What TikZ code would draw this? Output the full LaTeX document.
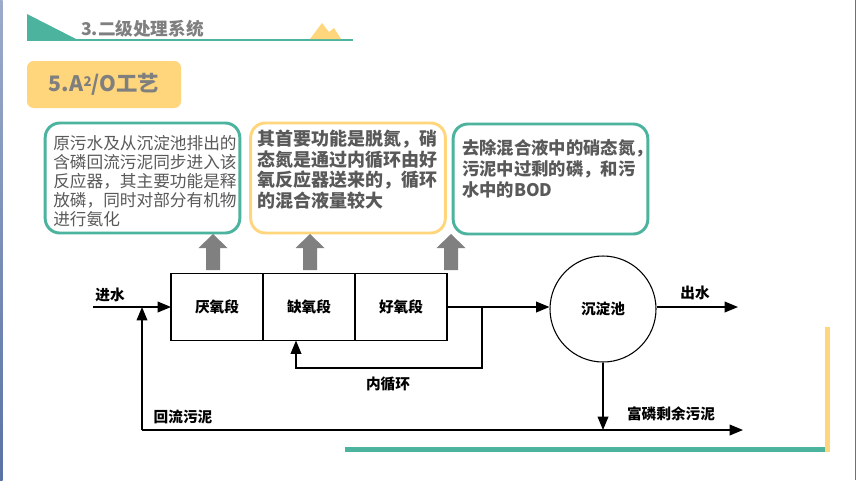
\documentclass[tikz,border=0pt]{standalone}
\usepackage{fontspec}
\setmainfont{Noto Sans CJK SC}
\usetikzlibrary{arrows.meta,positioning}
\definecolor{themeteal}{RGB}{76,179,158}
\definecolor{themeyellow}{RGB}{255,214,123}
\definecolor{titlegray}{RGB}{127,127,127}
\definecolor{notegray}{RGB}{89,89,89}
\definecolor{fatgray}{RGB}{128,128,128}
\definecolor{edgeblue}{RGB}{90,115,165}

\begin{document}
\begin{tikzpicture}[x=0.75pt,y=0.75pt,yscale=-1,xscale=1,
    flow/.style={line width=1.1pt,-{Triangle[length=10pt,width=8pt]}},
    stage/.style={draw,line width=1.1pt,minimum width=69pt,minimum height=50.25pt,inner sep=0pt,outer sep=0pt,font=\bfseries\fontsize{11}{13}\selectfont},
    note/.style={draw,line width=2.2pt,rounded corners=11pt,minimum width=146pt,minimum height=82.5pt,inner sep=0pt},
    notetext/.style={anchor=north west,inner sep=0pt,align=left,text=notegray},
    lbl/.style={inner sep=0pt,font=\bfseries\fontsize{11}{13}\selectfont}]
    \useasboundingbox (0,0) rectangle (856,480);
    \fill[white] (0,0) rectangle (856,480);
    %Shape: Edges
    \shade[top color=edgeblue!60,bottom color=edgeblue] (0,0) rectangle (2.5,480);
    \draw[edgeblue,line width=0.8pt] (855.3,0) -- (855.3,480);
    %Shape: Header
    \fill[themeteal] (27,14) -- (78,40) -- (27,40) -- cycle;
    \draw[themeteal,line width=1.6pt] (27,40) -- (353,40);
    \fill[themeyellow] (310,39) -- (322,23) -- (329,32) -- (334,28) -- (341,39) -- cycle;
    \node[anchor=west,inner sep=0pt,text=titlegray,font=\bfseries\fontsize{13.2}{15}\selectfont] (hdr) at (81,28.5) {3.二级处理系统};
    \node[fill=themeyellow,rounded corners=5pt,minimum width=115.5pt,minimum height=35.25pt,text=titlegray,font=\bfseries\fontsize{16}{18}\selectfont] (sub) at (104,84.5) {5.A\raisebox{0.45ex}{\fontsize{10}{12}\selectfont 2}/O工艺};
    %Shape: Bottom frame
    \fill[themeteal] (345,447) rectangle (825,452);
    \fill[themeyellow] (825,327) rectangle (830,452);

    %Notes
    \node[note,draw=themeteal] (n1) at (142.5,178) {};
    \node[note,draw=themeyellow] (n2) at (348,178) {};
    \node[note,draw=themeteal] (n3) at (550.5,179) {};
    \node[notetext,font=\fontsize{12.5}{14.25}\selectfont] (t1) at (53,135) {原污水及从沉淀池排出的\\含磷回流污泥同步进入该\\反应器，其主要功能是释\\放磷，同时对部分有机物\\进行氨化};
    \node[notetext,font=\bfseries\fontsize{13.5}{15.4}\selectfont] (t2) at (257,130) {其首要功能是脱氮，硝\\态氮是通过内循环由好\\氧反应器送来的，循环\\的混合液量较大};
    \node[notetext,font=\bfseries\fontsize{13}{15.75}\selectfont] (t3) at (462,139) {去除混合液中的硝态氮，\\污泥中过剩的磷，和污\\水中的BOD};
    \foreach \cx in {213,310,451}
        \fill[fatgray] (\cx-7,270) -- (\cx-7,248) -- (\cx-14.5,248) -- (\cx,234) -- (\cx+14.5,248) -- (\cx+7,248) -- (\cx+7,270) -- cycle;

    %Process
    \node[stage] (ana) at (217,307) {厌氧段};
    \node[stage,right=0pt of ana] (ano) {缺氧段};
    \node[stage,right=0pt of ano] (aer) {好氧段};
    \node[circle,draw,line width=0.8pt,minimum size=79.5pt,inner sep=0pt,font=\bfseries\fontsize{11}{13}\selectfont] (sed) at (603,309) {沉淀池};
    \coordinate (in) at (93,307);
    \coordinate (out) at (738,307);
    \coordinate (rs) at (142,430);
    \coordinate (sink) at (743,430);
    \coordinate (ir) at (296,368);
    \draw[flow] (in) -- (ana.west);
    \draw[flow] (aer.east) -- (aer.east -| sed.west);
    \draw[flow] (aer.east) -- ++(35,0) |- (ir) -- (ir |- ano.south);
    \draw[flow] (in -| sed.east) -- (out);
    \draw[flow] (sed.south) -- (sed.south |- rs);
    \draw[flow] (rs) -- (rs |- in);
    \draw[flow] (rs) -- (sink);
    \node[lbl] (lin) at (110,295) {进水};
    \node[lbl] (lout) at (695,293) {出水};
    \node[lbl] (lrs) at (183,417) {回流污泥};
    \node[lbl] (lir) at (388,384) {内循环};
    \node[lbl] (lws) at (671,414) {富磷剩余污泥};
\end{tikzpicture}
\end{document}
